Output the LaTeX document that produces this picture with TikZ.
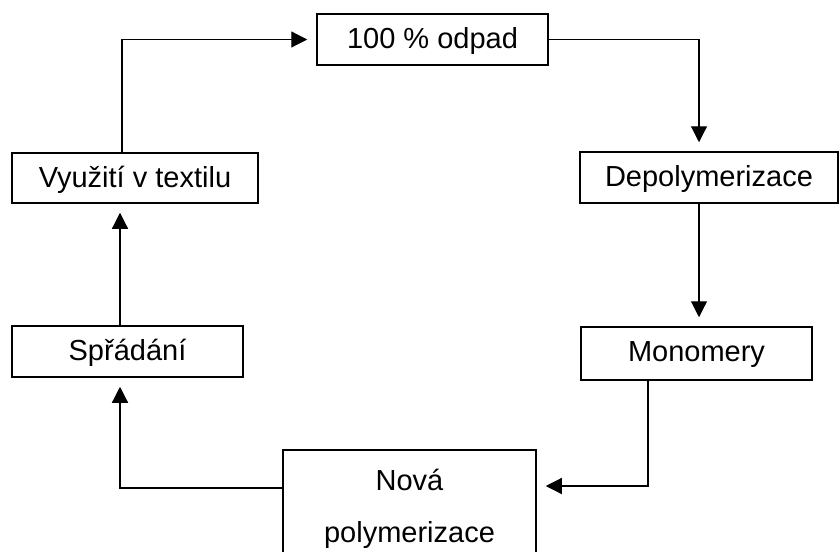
\documentclass[tikz,border=0pt]{standalone}
\usepackage{fontspec}
\setmainfont{Liberation Sans}
\usetikzlibrary{arrows.meta, positioning}

\begin{document}
\begin{tikzpicture}[
  x=0.5pt, y=-0.5pt,
  box/.style={rectangle, draw, line width=0.75pt, inner sep=0pt,
              font=\fontsize{14.5}{17}\selectfont, text depth=1.5pt},
  arr/.style={-{Triangle[length=8pt,width=8pt]}, line width=0.6pt, shorten >=4.5pt}
]
  \useasboundingbox (0,0) rectangle (839,551);
  \clip (0,0) rectangle (839,551);

  \node[box, minimum width=115.5pt, minimum height=25.5pt] (odpad) at (432.5,39.5) {100 \% odpad};
  \node[box, minimum width=129pt, minimum height=25.5pt] (depoly) at (709,177.5) {Depolymerizace};
  \node[box, minimum width=115.5pt, minimum height=26.5pt] (monomery) at (696.5,353.5) {Monomery};
  \node[box, minimum width=123pt, minimum height=25pt] (vyuziti) at (135,178) {Využití v textilu};
  \node[box, minimum width=115.5pt, minimum height=25.5pt] (spradani) at (127.5,351.5) {Spřádání};
  \node[box, anchor=north, minimum width=126.5pt, inner ysep=9.5pt, align=center, text depth=,
        font=\fontsize{14.5}{26}\selectfont] (nova) at (409.5,449) {Nová\\polymerizace};

  \draw[arr] ([xshift=-6.5pt]vyuziti.north) |- (odpad);
  \draw[arr] (odpad) -| ([xshift=-5pt]depoly.north);
  \draw[arr] ([xshift=-5pt]depoly.south) -- ([xshift=-5pt]depoly.south |- monomery.north);
  \draw[arr] ([xshift=-24.25pt]monomery.south) |- ([yshift=-18.5pt]nova.north east);
  \draw[arr] ([yshift=-19.5pt]nova.north west) -| ([xshift=-3.75pt]spradani.south);
  \draw[arr] ([xshift=-3.75pt]spradani.north) -- ([xshift=-3.75pt]spradani.north |- vyuziti.south);
\end{tikzpicture}
\end{document}
